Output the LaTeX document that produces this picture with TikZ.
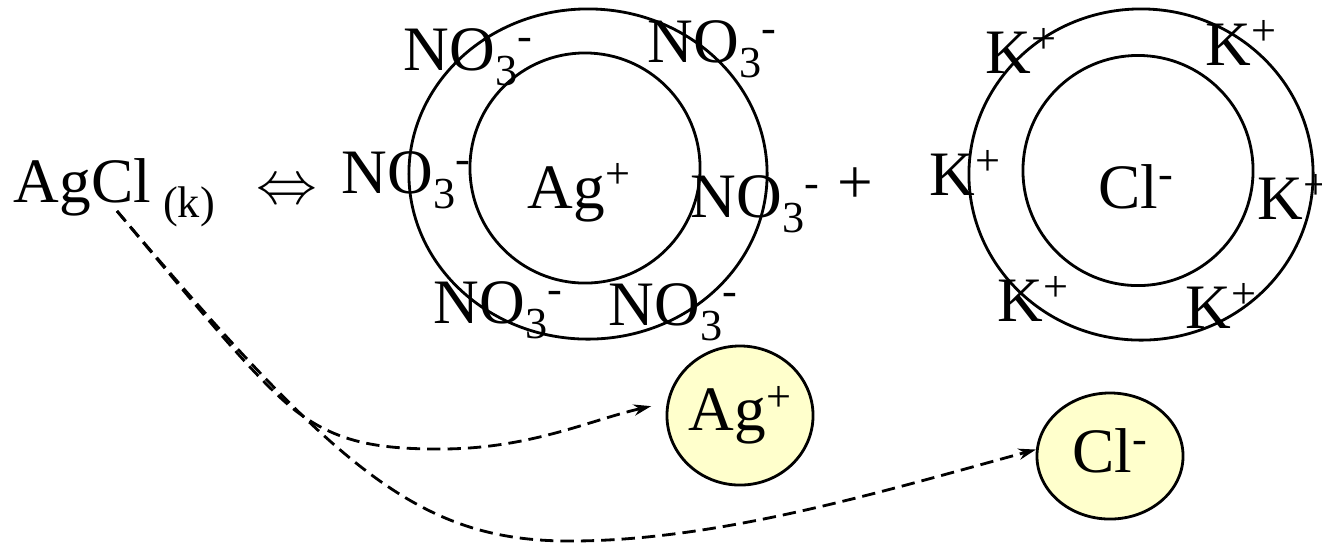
\documentclass[tikz,border=0pt]{standalone}
\usepackage{fontspec}
\setmainfont{Liberation Serif}
\usetikzlibrary{arrows.meta,shapes.geometric}
\definecolor{ionyellow}{RGB}{255,255,204}
\newcommand{\lowtx}[1]{\raisebox{-4.5pt}{\fontsize{12.6}{14}\selectfont #1}}
\newcommand{\hightx}[1]{\raisebox{5.5pt}{\fontsize{12.6}{14}\selectfont #1}}
\newcommand{\nitrate}{NO\lowtx{3}\hightx{-}}
\newcommand{\kion}{K\hightx{+}}
\tikzset{
  lbl/.style={anchor=base west, inner sep=0pt, font=\fontsize{18}{20}\selectfont},
  shell/.style={draw, line width=0.8pt},
  ion/.style={ellipse, draw, line width=0.8pt, fill=ionyellow, inner sep=0pt,
              font=\fontsize{18}{20}\selectfont},
  da/.style={dash pattern=on 3.8pt off 2pt, line width=0.8pt,
             -{Stealth[length=5pt,width=3.2pt]}}
}
\begin{document}
\begin{tikzpicture}[x=0.01cm, y=-0.01cm]
  \useasboundingbox (0,0) rectangle (1322,544);
  % left side of the equilibrium
  \node[lbl] (agcl) at (13,202) {AgCl\hspace{3.5pt}\lowtx{(k)}};
  \node[lbl] (eqv) at (256,203) {$\Leftrightarrow$};
  % silver ion with nitrate shell
  \draw[shell] (588,174) ellipse [x radius=1.79cm, y radius=1.65cm];
  \draw[shell] (585,168) circle [radius=1.15cm];
  \node[lbl] (ag) at (527,208) {Ag\hightx{+}};
  \node[lbl] (n1) at (403,70) {\nitrate};
  \node[lbl] (n2) at (647,62) {\nitrate};
  \node[lbl] (n3) at (341,193) {\nitrate};
  \node[lbl] (n4) at (690,217) {\nitrate};
  \node[lbl] (n5) at (433,323) {\nitrate};
  \node[lbl] (n6) at (608,325) {\nitrate};
  \node[lbl] (plus) at (837,203) {+};
  % chloride ion with potassium shell
  \draw[shell] (1141,174.5) ellipse [x radius=1.72cm, y radius=1.655cm];
  \draw[shell] (1138,170.5) circle [radius=1.15cm];
  \node[lbl] (cl) at (1098,208) {Cl\hightx{-}};
  \node[lbl] (k1) at (985,73) {\kion};
  \node[lbl] (k2) at (1205,65) {\kion};
  \node[lbl] (k3) at (929,195) {\kion};
  \node[lbl] (k4) at (1257,219) {\kion};
  \node[lbl] (k5) at (997,321) {\kion};
  \node[lbl] (k6) at (1185,328) {\kion};
  % free ions
  \node[ion, minimum width=1.46cm, minimum height=1.39cm] (agion) at (740,415.5) {Ag\hightx{+}};
  \node[ion, minimum width=1.46cm, minimum height=1.26cm] (clion) at (1110,456) {\raisebox{3pt}{Cl\hightx{-}}};
  \coordinate (src) at (117,211);
  \draw[da, shorten >=0.16cm] (src) .. controls (200,310) and (260,385) .. (300,414)
    .. controls (340,443) and (380,449) .. (440,449)
    .. controls (530,449) and (590,420) .. (agion.170);
  \draw[da] (src) .. controls (338,472) and (420,541) .. (570,541)
    .. controls (720,541) and (887,490) .. (clion.175);
\end{tikzpicture}
\end{document}
